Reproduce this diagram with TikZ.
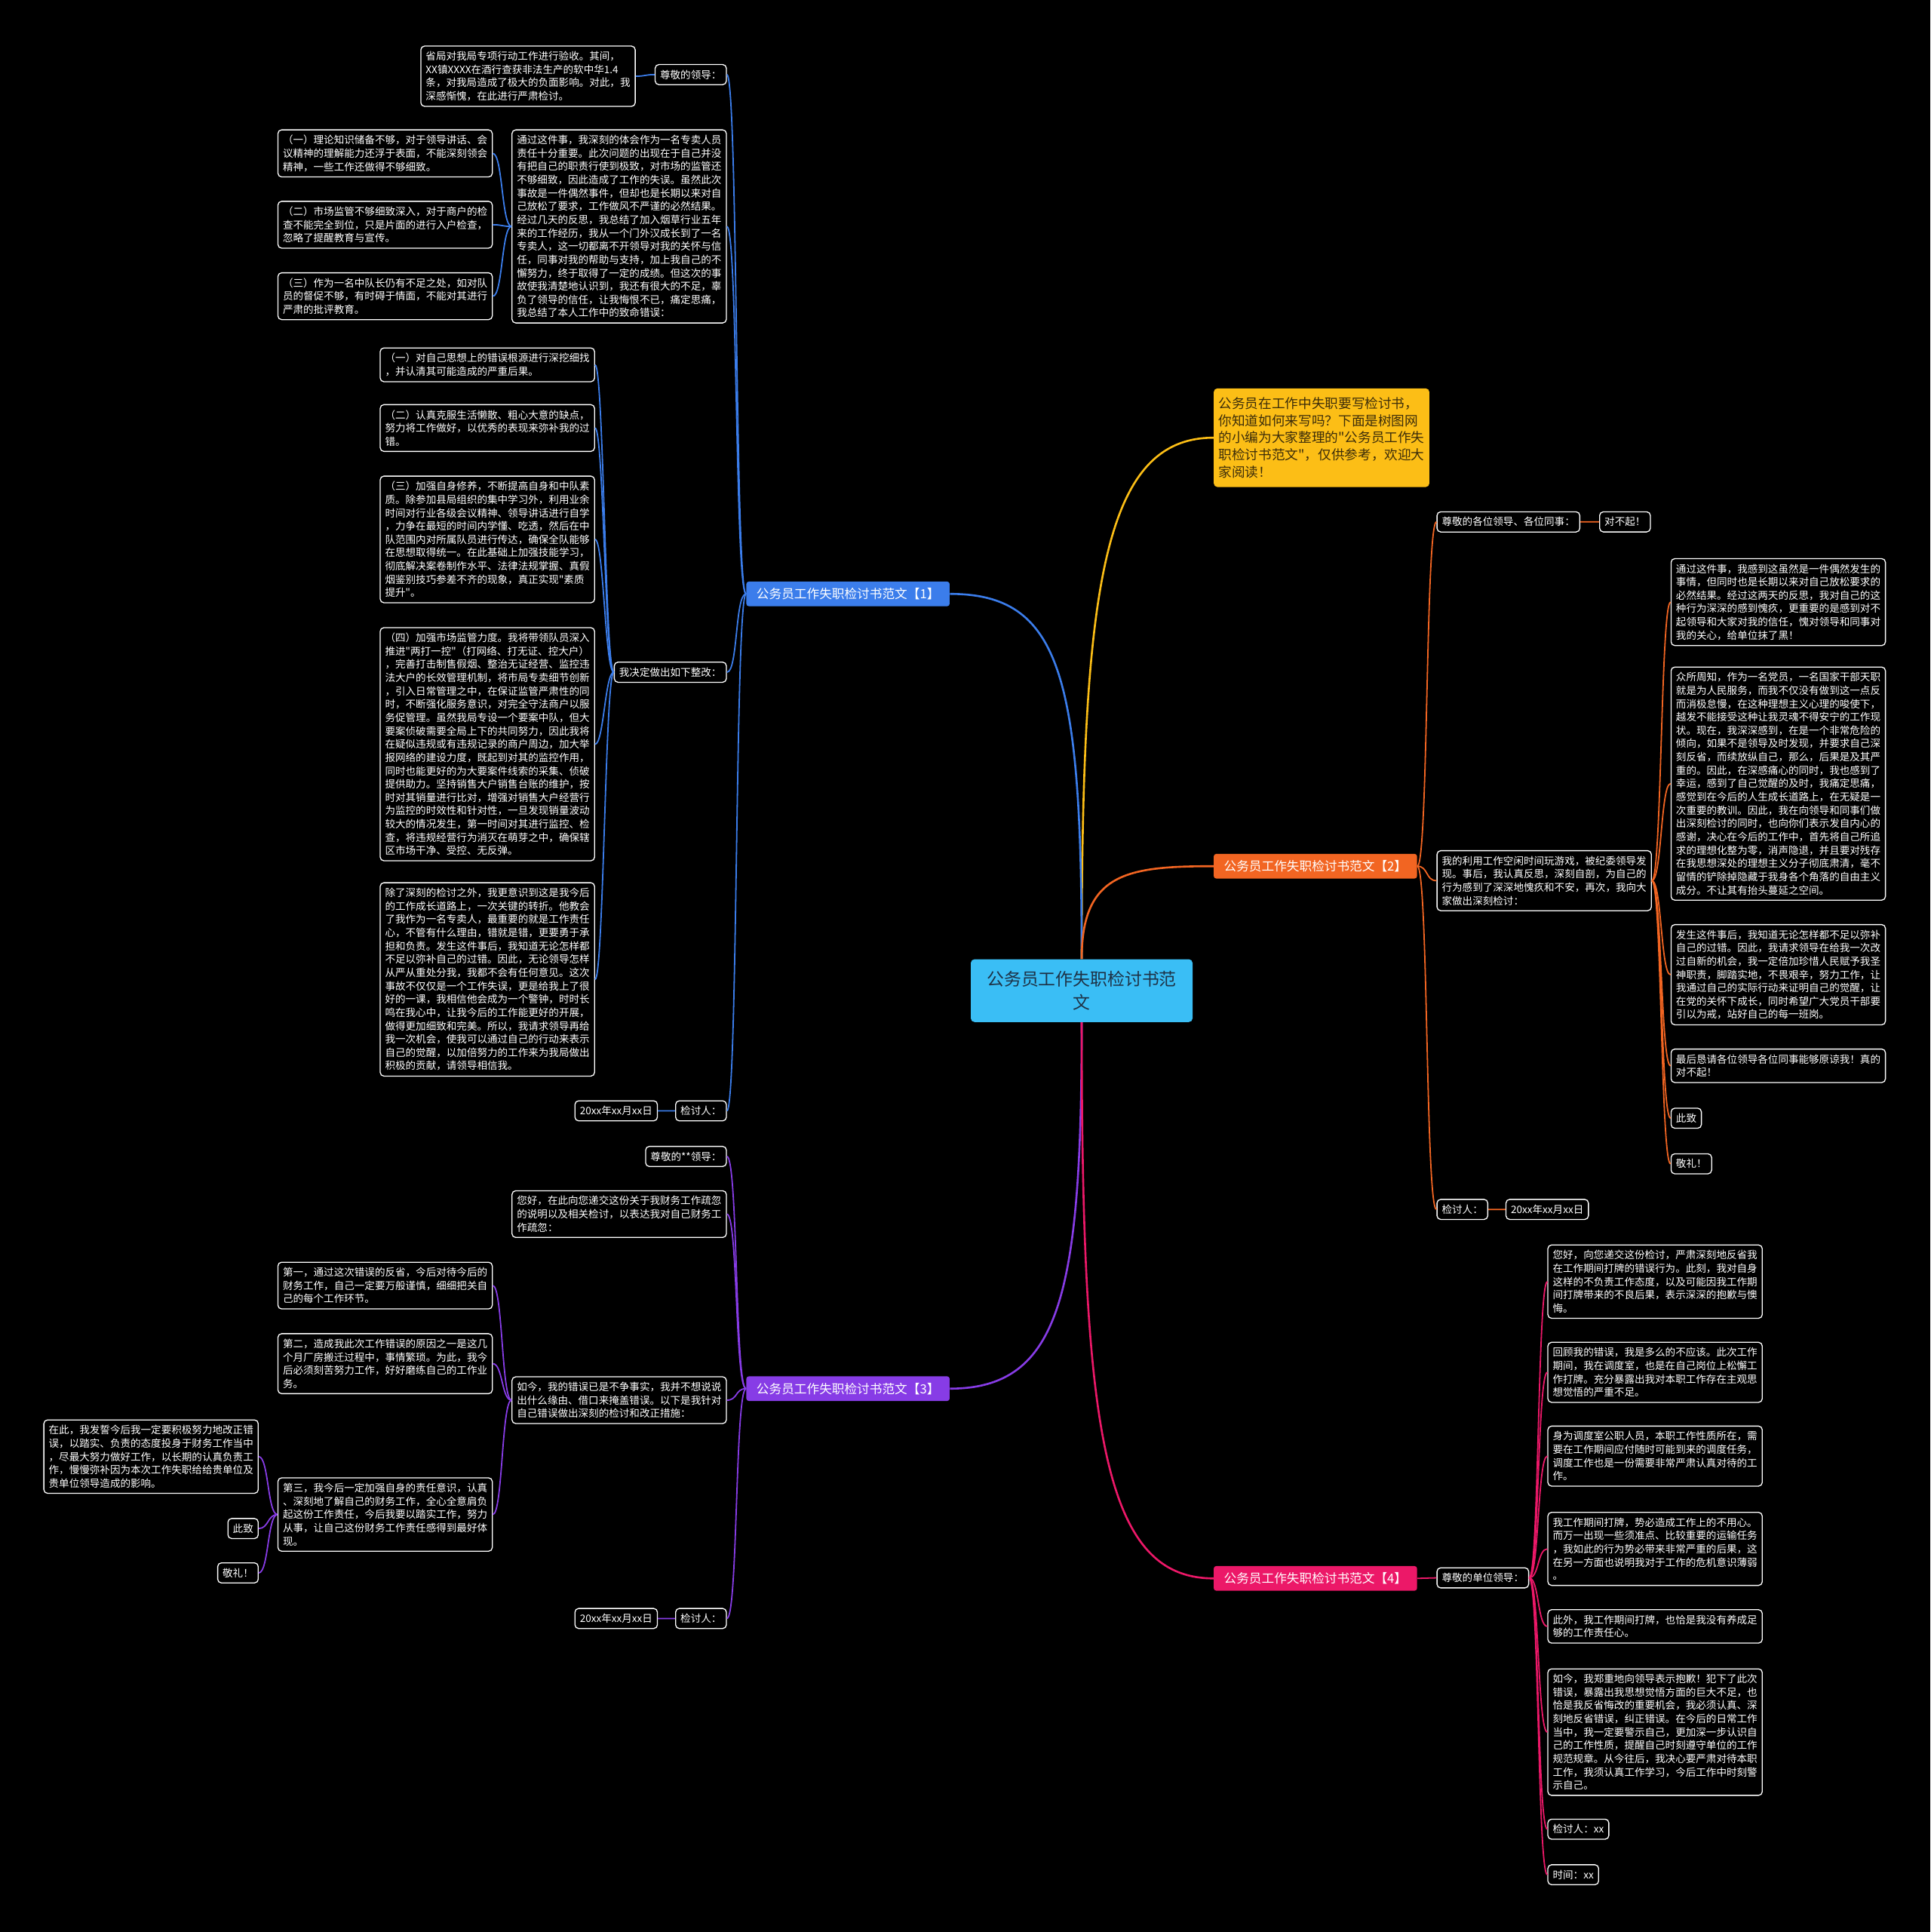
\documentclass[tikz,border=0pt]{standalone}
\usepackage{fontspec}
\newfontfamily\cjk{Noto Sans CJK SC}
\definecolor{cb1}{RGB}{59,125,235}
\definecolor{cb2}{RGB}{242,101,34}
\definecolor{cb3}{RGB}{135,60,230}
\definecolor{cb4}{RGB}{236,24,104}
\definecolor{cyl}{RGB}{252,190,22}
\definecolor{cctr}{RGB}{58,190,245}
\definecolor{ctxt}{RGB}{30,50,70}
\definecolor{ytxt}{RGB}{60,45,10}
\tikzset{
  box/.style={draw=white, line width=0.8pt, rounded corners=3pt, fill=black, text=white,
    font=\cjk\fontsize{8.3pt}{10.8pt}\selectfont, inner xsep=4pt, inner ysep=4.3pt, align=left},
  wbox/.style={box, text width=166pt},
  sbox/.style={box},
  branch/.style={rounded corners=2pt, text=white, font=\cjk\fontsize{10.2pt}{12pt}\selectfont,
    minimum width=165pt, minimum height=20pt, inner sep=2pt, align=center},
  e1/.style={cb1, line width=1.1pt},
  e2/.style={cb2, line width=1.1pt},
  e3/.style={cb3, line width=1.1pt},
  e4/.style={cb4, line width=1.1pt},
}
\begin{document}
\begin{tikzpicture}[x=1pt, y=-1pt]
\fill[black] (0,0) rectangle (1567,1568);
\useasboundingbox (0,0) rectangle (1567,1568);

% ---------- centre and main branches ----------
\node[fill=cctr, rounded corners=3pt, text=ctxt, font=\cjk\fontsize{14pt}{19pt}\selectfont,
  text width=170pt, inner xsep=5pt, inner ysep=9.5pt, align=center] (ctr) at (878,804)
  {公务员工作失职检讨书范\\文};
\node[fill=cyl, rounded corners=3pt, text=ytxt, font=\cjk\fontsize{10.8pt}{14pt}\selectfont,
  text width=167pt, inner xsep=4pt, inner ysep=7pt, align=left, anchor=north west] (intro) at (985,315)
  {公务员在工作中失职要写检讨书，\\你知道如何来写吗？下面是树图网\\的小编为大家整理的"公务员工作失\\职检讨书范文"，仅供参考，欢迎大\\家阅读！};
\node[branch, fill=cb1, anchor=east] (b1) at (771,482) {公务员工作失职检讨书范文【1】};
\node[branch, fill=cb2, anchor=west] (b2) at (985,703) {公务员工作失职检讨书范文【2】};
\node[branch, fill=cb3, anchor=east] (b3) at (771,1127) {公务员工作失职检讨书范文【3】};
\node[branch, fill=cb4, anchor=west] (b4) at (985,1281) {公务员工作失职检讨书范文【4】};

\draw[cyl, line width=1.6pt] (ctr.north) .. controls +(0,-300) and +(-90,0) .. (intro.west);
\draw[cb1, line width=1.6pt] (ctr.north) .. controls +(0,-230) and +(90,0) .. (b1.east);
\draw[cb2, line width=1.6pt] (ctr.north) .. controls +(0,-70) and +(-70,0) .. (b2.west);
\draw[cb3, line width=1.6pt] (ctr.south) .. controls +(0,220) and +(90,0) .. (b3.east);
\draw[cb4, line width=1.6pt] (ctr.south) .. controls +(0,330) and +(-90,0) .. (b4.west);

% ---------- branch 1 ----------
\node[sbox, anchor=north east] (l1a) at (590,52) {尊敬的领导：};
\node[wbox, anchor=north east] (l1a1) at (516,37)
{省局对我局专项行动工作进行验收。其间，\\XX镇XXXX在酒行查获非法生产的软中华1.4\\条，对我局造成了极大的负面影响。对此，我\\深感惭愧，在此进行严肃检讨。};
\node[wbox, anchor=north east] (l1b) at (590,105)
{通过这件事，我深刻的体会作为一名专卖人员\\责任十分重要。此次问题的出现在于自己并没\\有把自己的职责行使到极致，对市场的监管还\\不够细致，因此造成了工作的失误。虽然此次\\事故是一件偶然事件，但却也是长期以来对自\\己放松了要求，工作做风不严谨的必然结果。\\经过几天的反思，我总结了加入烟草行业五年\\来的工作经历，我从一个门外汉成长到了一名\\专卖人，这一切都离不开领导对我的关怀与信\\任，同事对我的帮助与支持，加上我自己的不\\懈努力，终于取得了一定的成绩。但这次的事\\故使我清楚地认识到，我还有很大的不足，辜\\负了领导的信任，让我悔恨不已，痛定思痛，\\我总结了本人工作中的致命错误：};
\node[wbox, anchor=north east] (l1b1) at (400,105)
{（一）理论知识储备不够，对于领导讲话、会\\议精神的理解能力还浮于表面，不能深刻领会\\精神，一些工作还做得不够细致。};
\node[wbox, anchor=north east] (l1b2) at (400,163)
{（二）市场监管不够细致深入，对于商户的检\\查不能完全到位，只是片面的进行入户检查，\\忽略了提醒教育与宣传。};
\node[wbox, anchor=north east] (l1b3) at (400,221)
{（三）作为一名中队长仍有不足之处，如对队\\员的督促不够，有时碍于情面，不能对其进行\\严肃的批评教育。};
\node[sbox, anchor=north east] (l1c) at (590,537) {我决定做出如下整改：};
\node[wbox, anchor=north east] (l1c1) at (483,282)
{（一）对自己思想上的错误根源进行深挖细找\\，并认清其可能造成的严重后果。};
\node[wbox, anchor=north east] (l1c2) at (483,328)
{（二）认真克服生活懒散、粗心大意的缺点，\\努力将工作做好，以优秀的表现来弥补我的过\\错。};
\node[wbox, anchor=north east] (l1c3) at (483,386)
{（三）加强自身修养，不断提高自身和中队素\\质。除参加县局组织的集中学习外，利用业余\\时间对行业各级会议精神、领导讲话进行自学\\，力争在最短的时间内学懂、吃透，然后在中\\队范围内对所属队员进行传达，确保全队能够\\在思想取得统一。在此基础上加强技能学习，\\彻底解决案卷制作水平、法律法规掌握、真假\\烟鉴别技巧参差不齐的现象，真正实现"素质\\提升"。};
\node[wbox, anchor=north east] (l1c4) at (483,509)
{（四）加强市场监管力度。我将带领队员深入\\推进"两打一控"（打网络、打无证、控大户）\\，完善打击制售假烟、整治无证经营、监控违\\法大户的长效管理机制，将市局专卖细节创新\\，引入日常管理之中，在保证监管严肃性的同\\时，不断强化服务意识，对完全守法商户以服\\务促管理。虽然我局专设一个要案中队，但大\\要案侦破需要全局上下的共同努力，因此我将\\在疑似违规或有违规记录的商户周边，加大举\\报网络的建设力度，既起到对其的监控作用，\\同时也能更好的为大要案件线索的采集、侦破\\提供助力。坚持销售大户销售台账的维护，按\\时对其销量进行比对，增强对销售大户经营行\\为监控的时效性和针对性，一旦发现销量波动\\较大的情况发生，第一时间对其进行监控、检\\查，将违规经营行为消灭在萌芽之中，确保辖\\区市场干净、受控、无反弹。};
\node[wbox, anchor=north east] (l1c5) at (483,716)
{除了深刻的检讨之外，我更意识到这是我今后\\的工作成长道路上，一次关键的转折。他教会\\了我作为一名专卖人，最重要的就是工作责任\\心，不管有什么理由，错就是错，更要勇于承\\担和负责。发生这件事后，我知道无论怎样都\\不足以弥补自己的过错。因此，无论领导怎样\\从严从重处分我，我都不会有任何意见。这次\\事故不仅仅是一个工作失误，更是给我上了很\\好的一课，我相信他会成为一个警钟，时时长\\鸣在我心中，让我今后的工作能更好的开展，\\做得更加细致和完美。所以，我请求领导再给\\我一次机会，使我可以通过自己的行动来表示\\自己的觉醒，以加倍努力的工作来为我局做出\\积极的贡献，请领导相信我。};
\node[sbox, anchor=north east] (l1d) at (590,893) {检讨人：};
\node[sbox, anchor=north east] (l1d1) at (534,893) {20xx年xx月xx日};

\foreach \c in {l1a,l1b,l1c,l1d}
  \draw[e1] (b1.west) .. controls +(-9,0) and +(9,0) .. (\c.east);
\draw[e1] (l1a.west) .. controls +(-8,0) and +(8,0) .. (l1a1.east);
\foreach \c in {l1b1,l1b2,l1b3}
  \draw[e1] (l1b.west) .. controls +(-8,0) and +(8,0) .. (\c.east);
\foreach \c in {l1c1,l1c2,l1c3,l1c4,l1c5}
  \draw[e1] (l1c.west) .. controls +(-7,0) and +(7,0) .. (\c.east);
\draw[e1] (l1d.west) -- (l1d1.east);

% ---------- branch 3 ----------
\node[sbox, anchor=north east] (l3a) at (590,930) {尊敬的**领导：};
\node[wbox, anchor=north east] (l3b) at (590,966)
{您好，在此向您递交这份关于我财务工作疏忽\\的说明以及相关检讨，以表达我对自己财务工\\作疏忽：};
\node[wbox, anchor=north east] (l3c) at (590,1117)
{如今，我的错误已是不争事实，我并不想说说\\出什么缘由、借口来掩盖错误。以下是我针对\\自己错误做出深刻的检讨和改正措施：};
\node[wbox, anchor=north east] (l3c1) at (400,1024)
{第一，通过这次错误的反省，今后对待今后的\\财务工作，自己一定要万般谨慎，细细把关自\\己的每个工作环节。};
\node[wbox, anchor=north east] (l3c2) at (400,1082)
{第二，造成我此次工作错误的原因之一是这几\\个月厂房搬迁过程中，事情繁琐。为此，我今\\后必须刻苦努力工作，好好磨练自己的工作业\\务。};
\node[wbox, anchor=north east] (l3c3) at (400,1199)
{第三，我今后一定加强自身的责任意识，认真\\、深刻地了解自己的财务工作，全心全意肩负\\起这份工作责任，今后我要以踏实工作，努力\\从事，让自己这份财务工作责任感得到最好体\\现。};
\node[wbox, anchor=north east] (l3c3a) at (210,1152)
{在此，我发誓今后我一定要积极努力地改正错\\误，以踏实、负责的态度投身于财务工作当中\\，尽最大努力做好工作，以长期的认真负责工\\作，慢慢弥补因为本次工作失职给给贵单位及\\贵单位领导造成的影响。};
\node[sbox, anchor=north east] (l3c3b) at (210,1232) {此致};
\node[sbox, anchor=north east] (l3c3c) at (210,1268) {敬礼！};
\node[sbox, anchor=north east] (l3d) at (590,1305) {检讨人：};
\node[sbox, anchor=north east] (l3d1) at (534,1305) {20xx年xx月xx日};

\foreach \c in {l3a,l3b,l3c,l3d}
  \draw[e3] (b3.west) .. controls +(-9,0) and +(9,0) .. (\c.east);
\foreach \c in {l3c1,l3c2,l3c3}
  \draw[e3] (l3c.west) .. controls +(-8,0) and +(8,0) .. (\c.east);
\foreach \c in {l3c3a,l3c3b,l3c3c}
  \draw[e3] (l3c3.west) .. controls +(-8,0) and +(8,0) .. (\c.east);
\draw[e3] (l3d.west) -- (l3d1.east);

% ---------- branch 2 ----------
\node[sbox, anchor=north west] (r2a) at (1166,415) {尊敬的各位领导、各位同事：};
\node[sbox, anchor=north west] (r2a1) at (1298,415) {对不起！};
\node[wbox, anchor=north west] (r2b) at (1166,690)
{我的利用工作空闲时间玩游戏，被纪委领导发\\现。事后，我认真反思，深刻自剖，为自己的\\行为感到了深深地愧疚和不安，再次，我向大\\家做出深刻检讨：};
\node[wbox, anchor=north west] (r2b1) at (1356,453)
{通过这件事，我感到这虽然是一件偶然发生的\\事情，但同时也是长期以来对自己放松要求的\\必然结果。经过这两天的反思，我对自己的这\\种行为深深的感到愧疚，更重要的是感到对不\\起领导和大家对我的信任，愧对领导和同事对\\我的关心，给单位抹了黑！};
\node[wbox, anchor=north west] (r2b2) at (1356,541)
{众所周知，作为一名党员，一名国家干部天职\\就是为人民服务，而我不仅没有做到这一点反\\而消极怠慢，在这种理想主义心理的唆使下，\\越发不能接受这种让我灵魂不得安宁的工作现\\状。现在，我深深感到，在是一个非常危险的\\倾向，如果不是领导及时发现，并要求自己深\\刻反省，而续放纵自己，那么，后果是及其严\\重的。因此，在深感痛心的同时，我也感到了\\幸运，感到了自己觉醒的及时，我痛定思痛，\\感觉到在今后的人生成长道路上，在无疑是一\\次重要的教训。因此，我在向领导和同事们做\\出深刻检讨的同时，也向你们表示发自内心的\\感谢，决心在今后的工作中，首先将自己所追\\求的理想化整为零，消声隐退，并且要对残存\\在我思想深处的理想主义分子彻底肃清，毫不\\留情的铲除掉隐藏于我身各个角落的自由主义\\成分。不让其有抬头蔓延之空间。};
\node[wbox, anchor=north west] (r2b3) at (1356,750)
{发生这件事后，我知道无论怎样都不足以弥补\\自己的过错。因此，我请求领导在给我一次改\\过自新的机会，我一定倍加珍惜人民赋予我圣\\神职责，脚踏实地，不畏艰辛，努力工作，让\\我通过自己的实际行动来证明自己的觉醒，让\\在党的关怀下成长，同时希望广大党员干部要\\引以为戒，站好自己的每一班岗。};
\node[wbox, anchor=north west] (r2b4) at (1356,851)
{最后恳请各位领导各位同事能够原谅我！真的\\对不起！};
\node[sbox, anchor=north west] (r2b5) at (1356,899) {此致};
\node[sbox, anchor=north west] (r2b6) at (1356,936) {敬礼！};
\node[sbox, anchor=north west] (r2c) at (1166,973) {检讨人：};
\node[sbox, anchor=north west] (r2c1) at (1222,973) {20xx年xx月xx日};

\foreach \c in {r2a,r2b,r2c}
  \draw[e2] (b2.east) .. controls +(9,0) and +(-9,0) .. (\c.west);
\draw[e2] (r2a.east) -- (r2a1.west);
\foreach \c in {r2b1,r2b2,r2b3,r2b4,r2b5,r2b6}
  \draw[e2] (r2b.east) .. controls +(8,0) and +(-8,0) .. (\c.west);
\draw[e2] (r2c.east) -- (r2c1.west);

% ---------- branch 4 ----------
\node[sbox, anchor=north west] (r4a) at (1166,1272) {尊敬的单位领导：};
\node[wbox, anchor=north west] (r4a1) at (1256,1010)
{您好，向您递交这份检讨，严肃深刻地反省我\\在工作期间打牌的错误行为。此刻，我对自身\\这样的不负责工作态度，以及可能因我工作期\\间打牌带来的不良后果，表示深深的抱歉与懊\\悔。};
\node[wbox, anchor=north west] (r4a2) at (1256,1089)
{回顾我的错误，我是多么的不应该。此次工作\\期间，我在调度室，也是在自己岗位上松懈工\\作打牌。充分暴露出我对本职工作存在主观思\\想觉悟的严重不足。};
\node[wbox, anchor=north west] (r4a3) at (1256,1157)
{身为调度室公职人员，本职工作性质所在，需\\要在工作期间应付随时可能到来的调度任务，\\调度工作也是一份需要非常严肃认真对待的工\\作。};
\node[wbox, anchor=north west] (r4a4) at (1256,1227)
{我工作期间打牌，势必造成工作上的不用心。\\而万一出现一些须准点、比较重要的运输任务\\，我如此的行为势必带来非常严重的后果，这\\在另一方面也说明我对于工作的危机意识薄弱\\。};
\node[wbox, anchor=north west] (r4a5) at (1256,1306)
{此外，我工作期间打牌，也恰是我没有养成足\\够的工作责任心。};
\node[wbox, anchor=north west] (r4a6) at (1256,1354)
{如今，我郑重地向领导表示抱歉！犯下了此次\\错误，暴露出我思想觉悟方面的巨大不足，也\\恰是我反省悔改的重要机会，我必须认真、深\\刻地反省错误，纠正错误。在今后的日常工作\\当中，我一定要警示自己，更加深一步认识自\\己的工作性质，提醒自己时刻遵守单位的工作\\规范规章。从今往后，我决心要严肃对待本职\\工作，我须认真工作学习，今后工作中时刻警\\示自己。};
\node[sbox, anchor=north west] (r4a7) at (1256,1476) {检讨人：xx};
\node[sbox, anchor=north west] (r4a8) at (1256,1513) {时间：xx};

\draw[e4] (b4.east) -- (r4a.west);
\foreach \c in {r4a1,r4a2,r4a3,r4a4,r4a5,r4a6,r4a7,r4a8}
  \draw[e4] (r4a.east) .. controls +(8,0) and +(-8,0) .. (\c.west);
\end{tikzpicture}
\end{document}
